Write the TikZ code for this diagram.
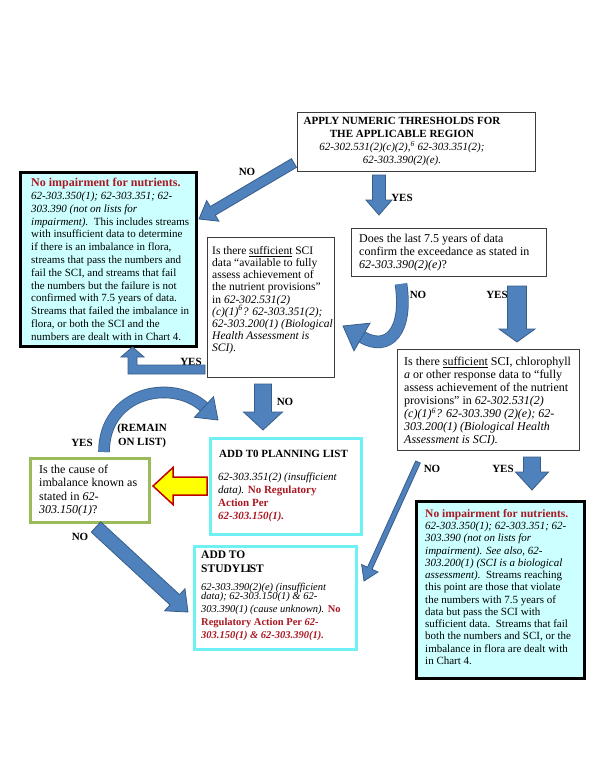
\documentclass[tikz,border=0pt]{standalone}
\usepackage{fontspec}
\setmainfont{Liberation Serif}
\usetikzlibrary{calc}
\definecolor{arrblue}{RGB}{79,129,189}
\definecolor{arrline}{RGB}{56,93,138}
\definecolor{boxline}{RGB}{60,60,60}
\definecolor{cyanfill}{RGB}{204,255,255}
\definecolor{cyanline}{RGB}{110,240,245}
\definecolor{greenline}{RGB}{155,187,89}
\definecolor{dred}{RGB}{170,25,35}
\definecolor{yel}{RGB}{255,255,0}
\definecolor{yelline}{RGB}{192,0,0}
\newcommand{\blockarr}[6]{%
  \path ($(#3)!#6!(#2)$) coordinate (bahd);
  \filldraw[#1] ($(#2)!#4!90:(#3)$) -- ($(bahd)!#4!90:(#3)$) -- ($(bahd)!#5!90:(#3)$) -- (#3) -- ($(bahd)!#5!-90:(#3)$) -- ($(bahd)!#4!-90:(#3)$) -- ($(#2)!#4!-90:(#3)$) -- cycle;}
\newcommand{\arrhead}[4]{%
  \filldraw[#1] ($(#2)!#4!90:(#3)$) -- (#3) -- ($(#2)!#4!-90:(#3)$) -- cycle;}
\tikzset{
  blk/.style={fill=arrblue, draw=arrline, line width=0.8pt, line join=miter},
  yelarr/.style={fill=yel, draw=yelline, line width=1.5pt, line join=miter},
  curvarr/.style={draw=arrline, line width=0.8pt, double=arrblue},
  plainbox/.style={draw=boxline, line width=0.9pt, inner sep=0, anchor=north west},
  thickbox/.style={draw=black, line width=3pt, fill=cyanfill, inner sep=0, anchor=north west},
  cyanbox/.style={draw=cyanline, line width=3pt, fill=white, inner sep=0, anchor=north west},
  greenbox/.style={draw=greenline, line width=2.5pt, fill=white, inner sep=0, anchor=north west},
  txt/.style={inner sep=0, anchor=north west, align=left},
  lbl/.style={inner sep=0, font=\fontsize{11}{13}\selectfont\bfseries}
}
\begin{document}
\begin{tikzpicture}[x=1pt, y=-1pt]
\useasboundingbox (0,0) rectangle (600,777);
\fill[white] (0,0) rectangle (600,777);

% ---------- boxes ----------
\node[plainbox, minimum width=238pt, minimum height=59pt] (topbox) at (297,112) {};
\node[thickbox, minimum width=176pt, minimum height=174pt] (leftno) at (19,171) {};
\node[plainbox, minimum width=195pt, minimum height=48pt] (doesbox) at (351,228) {};
\node[plainbox, minimum width=127pt, minimum height=140pt] (suffbox) at (207,237) {};
\node[plainbox, minimum width=182pt, minimum height=101pt] (chlorbox) at (397,349) {};
\node[thickbox, minimum width=168pt, minimum height=177pt] (rightno) at (415,500) {};
\node[cyanbox, minimum width=151pt, minimum height=96pt] (planbox) at (209,437) {};
\node[cyanbox, minimum width=162pt, minimum height=103pt] (studybox) at (193,545) {};
\node[greenbox, minimum width=119pt, minimum height=64pt] (causebox) at (29,457) {};

% ---------- texts ----------
\node[inner sep=0, anchor=north, align=center, font=\fontsize{11}{13}\selectfont] (toptxt) at (402,117.4)
 {\textbf{APPLY NUMERIC THRESHOLDS FOR}\\
  \textbf{THE APPLICABLE REGION}\\
  \textit{62-302.531(2)(c)(2),\textsuperscript{6} 62-303.351(2);}\\
  \textit{62-303.390(2)(e).}};

\node[txt, font=\fontsize{11}{12.8}\selectfont] (leftnotxt) at (31,178)
 {{\fontsize{12}{12.8}\selectfont\bfseries\color{dred}No impairment for nutrients.}\\
  \textit{62-303.350(1); 62-303.351; 62-}\\
  \textit{303.390 (not on lists for}\\
  \textit{impairment).}\ \ This includes streams\\
  with insufficient data to determine\\
  if there is an imbalance in flora,\\
  streams that pass the numbers and\\
  fail the SCI, and streams that fail\\
  the numbers but the failure is not\\
  confirmed with 7.5 years of data.\\
  Streams that failed the imbalance in\\
  flora, or both the SCI and the\\
  numbers are dealt with in Chart 4.};

\node[txt, font=\fontsize{12}{13}\selectfont] (doestxt) at (359,233.7)
 {Does the last 7.5 years of data\\
  confirm the exceedance as stated in\\
  \textit{62-303.390(2)(e)}?};

\node[txt, font=\fontsize{11.5}{12.2}\selectfont] (sufftxt) at (212,246)
 {Is there \underline{sufficient} SCI\\
  data “available to fully\\
  assess achievement of\\
  the nutrient provisions”\\
  in \textit{62-302.531(2)}\\
  \textit{(c)(1)\textsuperscript{6}? 62-303.351(2);}\\
  \textit{62-303.200(1) (Biological}\\
  \textit{Health Assessment is}\\
  \textit{SCI).}};

\node[txt, font=\fontsize{12}{13}\selectfont] (chlortxt) at (404,356.7)
 {Is there \underline{sufficient} SCI, chlorophyll\\
  \textit{a} or other response data to “fully\\
  assess achievement of the nutrient\\
  provisions” in \textit{62-302.531(2)}\\
  \textit{(c)(1)\textsuperscript{6}? 62-303.390 (2)(e); 62-}\\
  \textit{303.200(1) (Biological Health}\\
  \textit{Assessment is SCI).}};

\node[txt, font=\fontsize{11}{12.25}\selectfont] (rightnotxt) at (425,509)
 {{\fontsize{11.5}{12.25}\selectfont\bfseries\color{dred}No impairment for nutrients.}\\
  \textit{62-303.350(1); 62-303.351; 62-}\\
  \textit{303.390 (not on lists for}\\
  \textit{impairment). See also, 62-}\\
  \textit{303.200(1) (SCI is a biological}\\
  \textit{assessment).}\ \ Streams reaching\\
  this point are those that violate\\
  the numbers with 7.5 years of\\
  data but pass the SCI with\\
  sufficient data.\ \ Streams that fail\\
  both the numbers and SCI, or the\\
  imbalance in flora are dealt with\\
  in Chart 4.};

\node[txt, font=\fontsize{11}{13}\selectfont\bfseries] (plantitle) at (219,450.4) {ADD T0 PLANNING LIST};
\node[txt, font=\fontsize{11}{13}\selectfont] (plantxt) at (218,472.4)
 {\textit{62-303.351(2) (insufficient}\\
  \textit{data).} {\color{dred}\bfseries No Regulatory}\\
  {\color{dred}\bfseries Action Per}\\
  {\color{dred}\bfseries\itshape 62-303.150(1).}};

\node[txt, font=\fontsize{11.5}{14}\selectfont\bfseries] (studytitle) at (201,551)
 {ADD TO\\ STUDY\kern0.5pt L\kern-1.8pt I\kern-1.2pt ST};
\node[txt, font=\fontsize{10.5}{13}\selectfont] (studytxt) at (201,582.7)
 {\textit{62-303.390(2)(e) (insufficient}\\[-3.5pt]
  \textit{data); 62-303.150(1) \& 62-}\\
  \textit{303.390(1) (cause unknown).} {\color{dred}\bfseries No}\\
  {\color{dred}\bfseries Regulatory Action Per \textit{62-}}\\
  {\color{dred}\bfseries\itshape 303.150(1) \& 62-303.390(1).}};

\node[txt, font=\fontsize{12}{13.4}\selectfont] (causetxt) at (39,464.7)
 {Is the cause of\\
  imbalance known as\\
  stated in \textit{62-}\\
  \textit{303.150(1)}?};

% ---------- labels ----------
\node[lbl] (l1) at (247,172) {NO};
\node[lbl] (l2) at (402,198) {YES};
\node[lbl] (l3) at (418,295) {NO};
\node[lbl] (l4) at (497,295) {YES};
\node[lbl] (l5) at (191,362) {YES};
\node[lbl] (l6) at (285,402) {NO};
\node[lbl] (l7) at (432,469) {NO};
\node[lbl] (l8) at (503,469) {YES};
\node[lbl] (l9) at (82,443) {YES};
\node[lbl, align=center, font=\fontsize{11}{14}\selectfont\bfseries] (l10) at (142,436) {(REMAIN\\ ON LIST)};
\node[lbl] (l11) at (80,537) {NO};

% ---------- arrow end points ----------
\coordinate (a1s) at (379,175);  \coordinate (a1e) at (379,215);
\coordinate (a2s) at (294,163);  \coordinate (a2e) at (199,219);
\coordinate (a3s) at (517,286);  \coordinate (a3e) at (517,342);
\coordinate (a4s) at (263,384);  \coordinate (a4e) at (263,430);
\coordinate (a5s) at (532,457);  \coordinate (a5e) at (532,490);
\coordinate (a6s) at (418,462);  \coordinate (a6e) at (364,581);
\coordinate (a7s) at (96,527);   \coordinate (a7e) at (188,612);
\coordinate (ys) at (207,486);   \coordinate (ye) at (153,486);
\coordinate (c1s) at (401,284);  \coordinate (c1e) at (362,337); \coordinate (c1t) at (343,326);
\coordinate (c2s) at (104,452);  \coordinate (c2e) at (204,407); \coordinate (c2t) at (218,420);

% ---------- straight block arrows ----------
\blockarr{blk}{a1s}{a1e}{6.5pt}{13pt}{15pt}
\blockarr{blk}{a2s}{a2e}{5pt}{12pt}{16pt}
\blockarr{blk}{a3s}{a3e}{9.5pt}{18pt}{13pt}
\blockarr{blk}{a4s}{a4e}{8.5pt}{19.5pt}{18pt}
\blockarr{blk}{a5s}{a5e}{8.5pt}{16.5pt}{18pt}
\blockarr{blk}{a6s}{a6e}{2.5pt}{9pt}{14pt}
\blockarr{blk}{a7s}{a7e}{7pt}{15pt}{18pt}
\blockarr{yelarr}{ys}{ye}{9pt}{18.5pt}{20pt}

% ---------- bent YES arrow ----------
\filldraw[blk] (205,365) -- (137,365) -- (137,357) -- (144,357) -- (132.5,347) -- (121,357) -- (128,357) -- (128,374) -- (205,374) -- cycle;

% ---------- curved arrows ----------
\draw[curvarr, double distance=11pt] (c1s) .. controls (408,332) and (388,352) .. (c1e);
\arrhead{blk}{c1e}{c1t}{16pt}
\draw[curvarr, double distance=10pt] (c2s) .. controls (104,392) and (172,378) .. (c2e);
\arrhead{blk}{c2e}{c2t}{14pt}
\end{tikzpicture}
\end{document}
